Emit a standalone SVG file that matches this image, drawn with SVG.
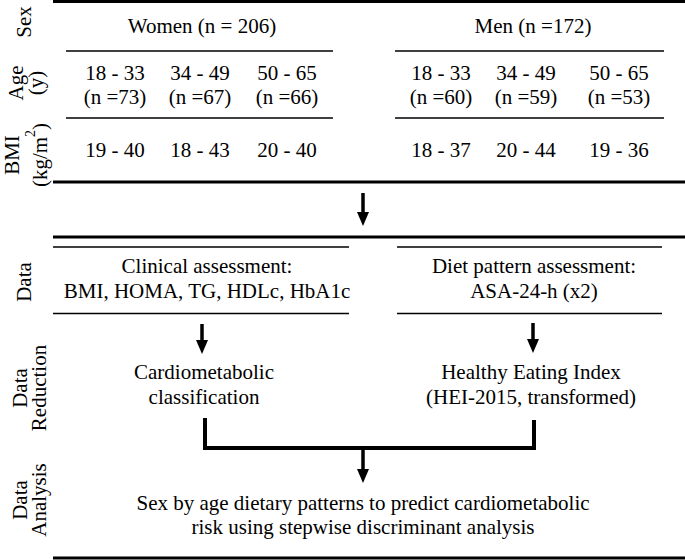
<svg xmlns="http://www.w3.org/2000/svg" width="685" height="560" viewBox="0 0 685 560">
<style>
text{font-family:"Liberation Serif","Times New Roman",serif;font-size:21px;fill:#000;text-anchor:middle}
.thick{stroke:#000;stroke-width:3;fill:none}
.thin{stroke:#000;stroke-width:1.3;fill:none}
.arrow{stroke:#000;stroke-width:3.5;fill:none;marker-end:url(#ah)}
.bracket{stroke:#000;stroke-width:4;fill:none;stroke-linejoin:miter}
.sup{font-size:14px}
</style>
<defs>
<marker id="ah" markerUnits="userSpaceOnUse" markerWidth="14" markerHeight="12" refX="0" refY="6" orient="auto" viewBox="0 0 14 12"><path d="M0,0 L14,6 L0,12 z" fill="#000"/></marker>
</defs>
<rect width="685" height="560" fill="#fff"/>
<g id="rules">
<line class="thick" x1="53" y1="1.5" x2="685" y2="1.5"/>
<line class="thin" x1="66" y1="51" x2="333" y2="51"/>
<line class="thin" x1="395" y1="51" x2="664" y2="51"/>
<line class="thin" x1="66" y1="118" x2="333" y2="118"/>
<line class="thin" x1="395" y1="118" x2="664" y2="118"/>
<line class="thick" x1="53" y1="182" x2="685" y2="182"/>
<line class="thick" x1="53" y1="237" x2="685" y2="237"/>
<line class="thin" x1="53" y1="247" x2="349" y2="247"/>
<line class="thin" x1="397" y1="247" x2="662" y2="247"/>
<line class="thin" x1="53" y1="313.5" x2="349" y2="313.5"/>
<line class="thin" x1="397" y1="313.5" x2="662" y2="313.5"/>
<line class="thick" x1="53" y1="558" x2="685" y2="558"/>
</g>
<g id="row-labels">
<g id="label-sex"><text transform="translate(31,22) rotate(-90)">Sex</text></g>
<g id="label-age"><text transform="translate(23,83) rotate(-90)">Age</text><text transform="translate(43,83) rotate(-90)">(y)</text></g>
<g id="label-bmi"><text transform="translate(19,155) rotate(-90)">BMI</text><text transform="translate(47,155) rotate(-90)">(kg/m<tspan class="sup" dy="-12">2</tspan><tspan dy="12">)</tspan></text></g>
<g id="label-data"><text transform="translate(31,282) rotate(-90)">Data</text></g>
<g id="label-reduction"><text transform="translate(27,388) rotate(-90)">Data</text><text transform="translate(46,388) rotate(-90)">Reduction</text></g>
<g id="label-analysis"><text transform="translate(27,500) rotate(-90)">Data</text><text transform="translate(46,500) rotate(-90)">Analysis</text></g>
</g>
<g id="women">
<text x="202" y="33">Women (n = 206)</text>
<g id="w1"><text x="115" y="80">18 - 33</text><text x="115" y="104">(n =73)</text><text x="115" y="157">19 - 40</text></g>
<g id="w2"><text x="200" y="80">34 - 49</text><text x="200" y="104">(n =67)</text><text x="200" y="157">18 - 43</text></g>
<g id="w3"><text x="287" y="80">50 - 65</text><text x="287" y="104">(n =66)</text><text x="287" y="157">20 - 40</text></g>
</g>
<g id="men">
<text x="533" y="33">Men (n =172)</text>
<g id="m1"><text x="441" y="80">18 - 33</text><text x="441" y="104">(n =60)</text><text x="441" y="157">18 - 37</text></g>
<g id="m2"><text x="526" y="80">34 - 49</text><text x="526" y="104">(n =59)</text><text x="526" y="157">20 - 44</text></g>
<g id="m3"><text x="619" y="80">50 - 65</text><text x="619" y="104">(n =53)</text><text x="619" y="157">19 - 36</text></g>
</g>
<g id="clinical"><text x="207" y="273">Clinical assessment:</text><text x="207" y="298">BMI, HOMA, TG, HDLc, HbA1c</text></g>
<g id="diet"><text x="534" y="273">Diet pattern assessment:</text><text x="534" y="298">ASA-24-h (x2)</text></g>
<g id="cardio"><text x="204" y="379">Cardiometabolic</text><text x="204" y="404">classification</text></g>
<g id="hei"><text x="531" y="379">Healthy Eating Index</text><text x="531" y="404">(HEI-2015, transformed)</text></g>
<g id="analysis"><text x="363" y="510">Sex by age dietary patterns to predict cardiometabolic</text><text x="363" y="534">risk using stepwise discriminant analysis</text></g>
<g id="connectors">
<line class="arrow" x1="363" y1="193" x2="363" y2="212"/>
<line class="arrow" x1="202" y1="324" x2="202" y2="340"/>
<line class="arrow" x1="533" y1="323" x2="533" y2="339"/>
<path class="bracket" d="M205,418 V448 H534 V420"/>
<line class="arrow" x1="363" y1="448" x2="363" y2="469"/>
</g>
</svg>
